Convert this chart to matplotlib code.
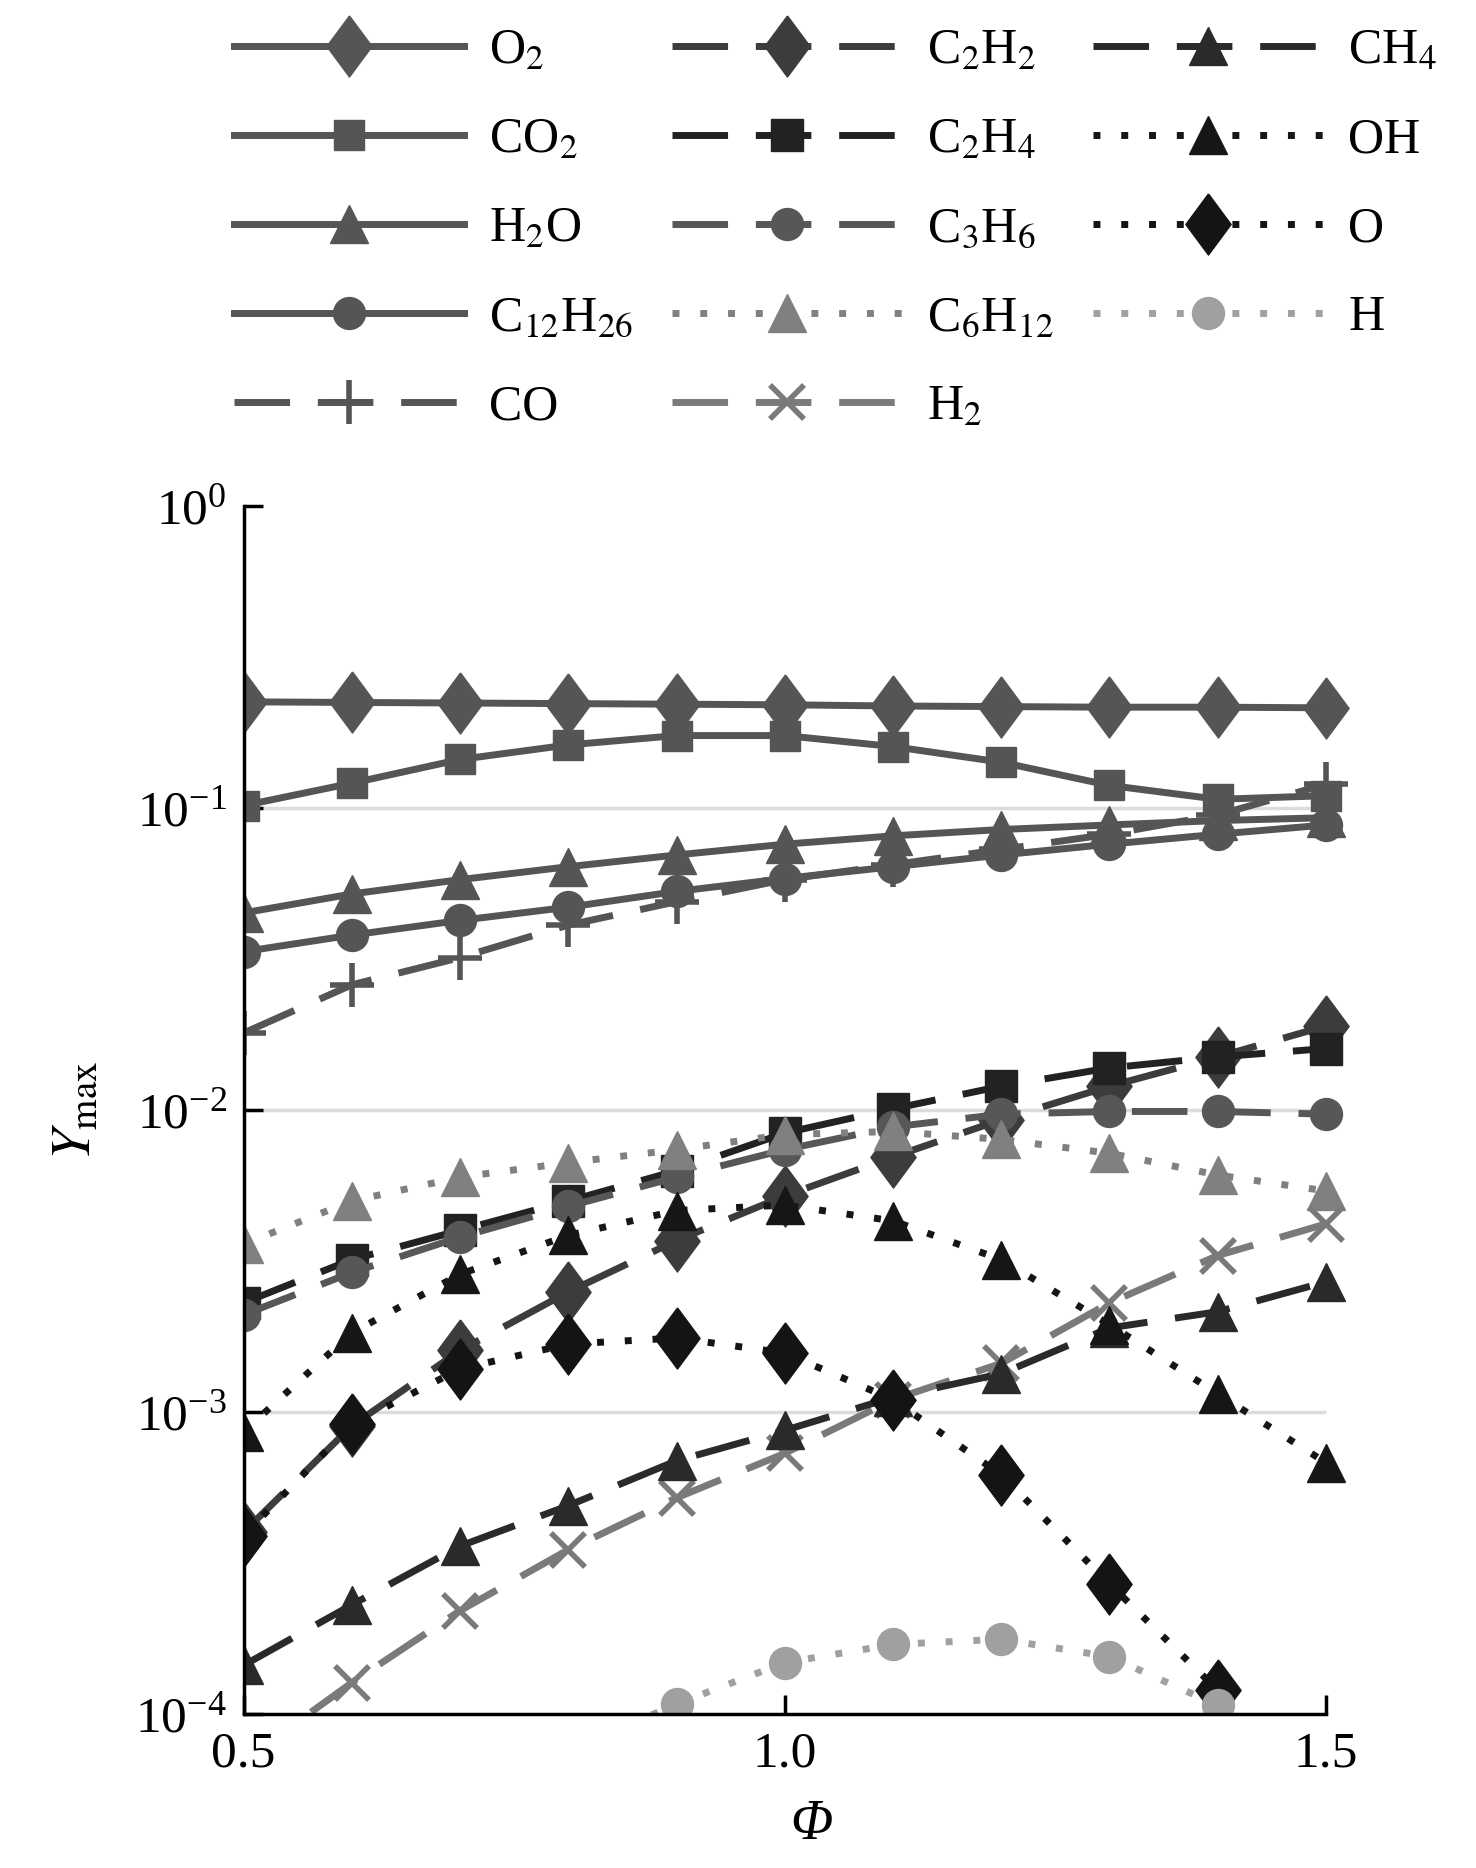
import matplotlib
matplotlib.use('Agg')
from matplotlib import pyplot as plt

plt.rcParams['font.family'] = ['Liberation Serif', 'DejaVu Serif']
plt.rcParams['mathtext.fontset'] = 'stix'

phi = [0.5, 0.6, 0.7, 0.8, 0.9, 1.0, 1.1, 1.2, 1.3, 1.4, 1.5]

y_o2 = [0.225, 0.224, 0.223, 0.222, 0.221, 0.220, 0.218, 0.217, 0.216, 0.216, 0.215]
y_co2 = [0.102, 0.121, 0.145, 0.162, 0.174, 0.174, 0.160, 0.142, 0.119, 0.107, 0.110]
y_h2o = [0.045, 0.052, 0.058, 0.064, 0.070, 0.076, 0.081, 0.085, 0.088, 0.091, 0.093]
y_c12h26 = [0.0335, 0.038, 0.0425, 0.047, 0.053, 0.0585, 0.064, 0.070, 0.076, 0.082, 0.088]
y_co = [0.018, 0.026, 0.032, 0.041, 0.049, 0.058, 0.065, 0.073, 0.082, 0.095, 0.12]
y_c2h2 = [4.0e-4, 9.0e-4, 1.6e-3, 2.5e-3, 3.7e-3, 5.2e-3, 7.0e-3, 9.3e-3, 0.012, 0.015, 0.019]
y_c2h4 = [2.3e-3, 3.2e-3, 4.0e-3, 5.0e-3, 6.3e-3, 8.4e-3, 0.0101, 0.012, 0.0138, 0.015, 0.016]
y_c3h6 = [2.1e-3, 2.9e-3, 3.8e-3, 4.8e-3, 6.0e-3, 7.4e-3, 8.8e-3, 9.7e-3, 0.0099, 0.0099, 0.0097]
y_c6h12 = [3.6e-3, 5.0e-3, 6.0e-3, 6.7e-3, 7.4e-3, 8.3e-3, 8.5e-3, 8.0e-3, 7.2e-3, 6.1e-3, 5.4e-3]
y_h2 = [7e-5, 1.27e-4, 2.2e-4, 3.5e-4, 5.2e-4, 7.3e-4, 1.1e-3, 1.45e-3, 2.3e-3, 3.3e-3, 4.2e-3]
y_ch4 = [1.45e-4, 2.3e-4, 3.6e-4, 4.9e-4, 6.9e-4, 8.7e-4, 1.12e-3, 1.34e-3, 1.9e-3, 2.15e-3, 2.7e-3]
y_oh = [8.6e-4, 1.83e-3, 2.86e-3, 3.85e-3, 4.65e-3, 4.85e-3, 4.3e-3, 3.2e-3, 1.95e-3, 1.15e-3, 6.8e-4]
y_o = [3.9e-4, 9.1e-4, 1.39e-3, 1.68e-3, 1.76e-3, 1.57e-3, 1.1e-3, 6.2e-4, 2.7e-4, 1.2e-4, 4.5e-5]
y_h = [1.5e-5, 3e-5, 5e-5, 7.5e-5, 1.08e-4, 1.48e-4, 1.7e-4, 1.77e-4, 1.55e-4, 1.07e-4, 5e-5]

labels = ['O$_2$', 'CO$_2$', 'H$_2$O', 'C$_{12}$H$_{26}$', 'CO',
          'C$_2$H$_2$', 'C$_2$H$_4$', 'C$_3$H$_6$', 'C$_6$H$_{12}$', 'H$_2$',
          'CH$_4$', 'OH', 'O', 'H']
series = [y_o2, y_co2, y_h2o, y_c12h26, y_co,
          y_c2h2, y_c2h4, y_c3h6, y_c6h12, y_h2,
          y_ch4, y_oh, y_o, y_h]

diamond = [(0, 1), (0.74, 0), (0, -1), (-0.74, 0), (0, 1)]
solid = None
dashed = (8, 4)
dotted = (1, 3)
# (color, marker, markersize, dashes)
styles = [
    ('#555555', diamond, 44, solid),
    ('#555555', 's', 22, solid),
    ('#555555', '^', 27, solid),
    ('#555555', 'o', 23, solid),
    ('#555555', '+', 32, dashed),
    ('#3c3c3c', diamond, 44, dashed),
    ('#222222', 's', 23, dashed),
    ('#575757', 'o', 23, dashed),
    ('#808080', '^', 28, dotted),
    ('#7a7a7a', 'x', 24, dashed),
    ('#2a2a2a', '^', 27, dashed),
    ('#161616', '^', 28, dotted),
    ('#141414', diamond, 44, dotted),
    ('#a0a0a0', 'o', 23, dotted),
]

fig = plt.figure(figsize=(14.76, 18.68), dpi=100)
ax = fig.add_axes([0.165, 0.0824, 0.770, 0.6466])

ax.hlines([1e-1, 1e-2, 1e-3], 0.5, 1.5, color='#dcdcdc', lw=2.5, zorder=0)

for ys, lab, (col, mk, ms, ds) in zip(series, labels, styles):
    line, = ax.plot(phi, ys, color=col, marker=mk, markersize=ms, lw=5,
                    markeredgecolor=col, label=lab,
                    markeredgewidth=4 if mk in ('x', '+') else 1)
    if ds is not None:
        line.set_dashes(ds)

ax.set_yscale('log')
ax.set_ylim(1e-4, 1)
ax.set_xlim(0.5, 1.55)
ax.spines['top'].set_visible(False)
ax.spines['right'].set_visible(False)
ax.spines['bottom'].set_bounds(0.5, 1.5)
for sp in ('left', 'bottom'):
    ax.spines[sp].set_linewidth(2.5)
ax.set_xticks([0.5, 1.0, 1.5])
ax.set_xticklabels(['0.5', '1.0', '1.5'])
ax.set_yticks([1e-4, 1e-3, 1e-2, 1e-1, 1])
ax.minorticks_off()
ax.tick_params(direction='in', length=14, width=2.5, labelsize=37, pad=12)
ax.set_xlabel('Φ', fontsize=40, style='italic', labelpad=16)
ax.set_ylabel(r'$Y_{\rm max}$', fontsize=40, labelpad=24)

handles, labs = ax.get_legend_handles_labels()
fig.legend(handles, labs, ncol=3, loc='upper left', bbox_to_anchor=(0.135, 1.004),
           frameon=False, fontsize=36, handlelength=4.6, handletextpad=0.5,
           columnspacing=0.78, labelspacing=0.85, borderpad=0.2)

fig.savefig('out.png', dpi=100)
plt.close()
